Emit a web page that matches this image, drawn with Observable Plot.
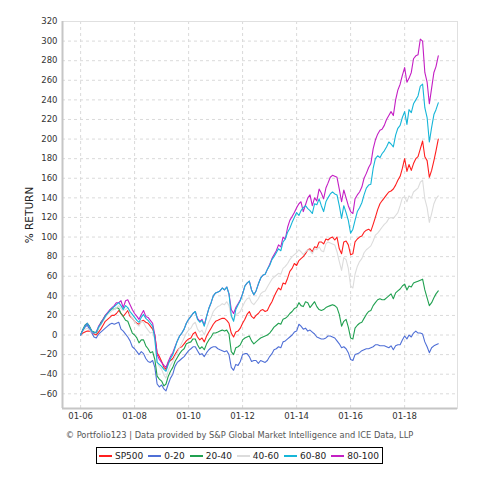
<!DOCTYPE html>
<html>
<head>
<meta charset="utf-8">
<script src="https://cdn.jsdelivr.net/npm/d3@7"></script>
<script src="https://cdn.jsdelivr.net/npm/@observablehq/plot@0.6"></script>
<style>
  html, body { margin: 0; padding: 0; background: #fff; }
  #wrap { position: relative; width: 479px; height: 478px; font-family: "DejaVu Sans", sans-serif; }
  #caption { position: absolute; top: 430px; left: 0; width: 479px; text-align: center; font-size: 8.3px; line-height: 10px; color: #555; white-space: nowrap; }
  #legendRow { position: absolute; top: 447px; left: 0; width: 479px; display: flex; justify-content: center; }
  #legend { display: inline-flex; align-items: center; border: 1px solid #000; height: 15px; padding: 0 3px 0 2px; font-size: 9px; color: #222; }
  .item { display: inline-flex; align-items: center; margin-right: 5px; }
  .item:last-child { margin-right: 0; }
  .sw { display: inline-block; width: 13px; height: 0; border-top: 2px solid; margin-right: 3px; }
</style>
</head>
<body>
<div id="wrap">
  <div id="chart"></div>
  <div id="caption">© Portfolio123 | Data provided by S&amp;P Global Market Intelligence and ICE Data, LLP</div>
  <div id="legendRow"><div id="legend"></div></div>
</div>
<script>
// Monthly % returns, Jan 2006 .. Apr 2019
const startYear = 2006;
const sp500 = [
  0, 2, 3, 4, 4, 3, 1, 0, 3, 6, 10, 14,
  16, 18, 20, 20, 22, 25, 22, 19, 22, 25, 19, 17,
  14, 12, 11, 14, 15, 13, 12, 9, 6, 0, -18, -22,
  -27, -33, -35, -28, -26, -24, -20, -16, -13, -12, -9, -6,
  -4, -3, 1, 3, -2, -5, -3, -7, -1, 3, 7, 11,
  14, 15, 16, 17, 17, 15, 12, 2, -2, 3, 4, 7,
  12, 16, 21, 24, 19, 17, 20, 22, 25, 26, 24, 25,
  30, 34, 39, 44, 48, 46, 53, 52, 58, 65, 68, 73,
  71, 76, 78, 80, 83, 87, 88, 85, 90, 89, 95, 95,
  93, 98, 97, 99, 100, 97, 100, 88, 83, 95, 96, 92,
  82, 83, 95, 98, 100, 101, 105, 107, 108, 106, 113, 120,
  128, 134, 137, 140, 143, 146, 147, 149, 153, 158, 162, 170,
  180, 167, 174, 168, 175, 180, 182, 190, 198, 182, 178, 161,
  168, 178, 188, 200
];
const q0_20 = [
  0, 5, 8, 10, 6, 2, -2, -3, 1, 3, 5, 7,
  9, 11, 12, 11, 12, 13, 6, 4, 1, -2, -6, -12,
  -14, -17, -20, -17, -19, -24, -27, -28, -26, -33, -50, -53,
  -51, -55, -57, -50, -44, -40, -32, -28, -26, -24, -22, -19,
  -16, -14, -12, -12, -16, -20, -19, -22, -18, -15, -13, -12,
  -12, -14, -15, -16, -17, -16, -20, -33, -36, -30, -31, -27,
  -20, -19, -19, -22, -27, -26, -26, -29, -26, -27, -28, -26,
  -22, -19, -15, -14, -12, -13, -7, -6, -4, -2, 0, 3,
  4, 11, 9, 6, 7, 4, 5, 3, 1, -2, -3, -4,
  -4, -3, -1, -1, -2, -3, -6, -9, -13, -12, -14, -18,
  -25, -26, -20, -19, -18, -16, -15, -14, -14, -13, -12, -10,
  -10, -11, -11, -11, -12, -13, -11, -15, -11, -10, -10, -5,
  -1, -4, 0, -2, 2, 4, 2, 2, 1, -7, -12, -18,
  -13, -11, -10, -9
];
const q20_40 = [
  0, 6, 10, 12, 9, 4, 3, 2, 7, 13, 16, 20,
  22, 25, 27, 26, 28, 27, 22, 19, 15, 14, 8, 2,
  0, -3, -8, -5, -5, -11, -14, -18, -17, -25, -42, -45,
  -47, -52, -50, -42, -37, -33, -27, -23, -19, -16, -14, -9,
  -8, -7, -4, -4, -10, -14, -12, -15, -9, -5, -2, 2,
  2, 3, 4, 5, 4, 5, 1, -17, -20, -13, -12, -10,
  -5, -3, -2, -1, -6, -9, -7, -5, -3, -2, -1, 0,
  2, 5, 8, 10, 12, 11, 16, 17, 19, 22, 24, 27,
  28, 33, 30, 29, 34, 33, 28, 31, 34, 29, 26, 25,
  26, 28, 29, 30, 31, 30, 28, 21, 9, 14, 16, 8,
  -3, -4, 7, 10, 12, 13, 17, 21, 24, 25, 30, 33,
  36, 37, 36, 36, 38, 40, 42, 37, 43, 45, 47, 50,
  52, 46, 50, 49, 53, 54, 55, 56, 57, 46, 38, 30,
  33, 38, 42, 45
];
const q40_60 = [
  0, 4, 6, 7, 5, 3, 2, 3, 7, 10, 14, 18,
  21, 23, 25, 26, 28, 30, 27, 25, 26, 28, 21, 17,
  14, 11, 9, 14, 13, 8, 5, 2, 3, -5, -28, -32,
  -35, -41, -44, -36, -31, -27, -22, -18, -13, -8, -3, 2,
  5, 7, 11, 13, 6, 3, 5, 0, 7, 13, 18, 24,
  27, 29, 30, 32, 31, 34, 30, 18, 15, 21, 22, 24,
  29, 34, 37, 38, 33, 31, 34, 37, 42, 44, 45, 49,
  53, 57, 59, 61, 63, 62, 68, 70, 73, 77, 80, 82,
  84, 87, 85, 82, 85, 87, 86, 83, 88, 87, 90, 86,
  85, 93, 95, 94, 93, 92, 85, 75, 66, 79, 77, 68,
  50, 48, 62, 70, 75, 78, 84, 87, 89, 91, 96, 102,
  104, 107, 110, 113, 115, 119, 120, 119, 122, 125, 132, 140,
  141, 136, 142, 140, 146, 148, 150, 156, 158, 139, 130, 115,
  124, 134, 139, 142
];
const q60_80 = [
  0, 5, 9, 12, 8, 4, 2, 3, 8, 11, 15, 19,
  22, 25, 27, 29, 31, 33, 30, 26, 30, 28, 24, 21,
  18, 15, 13, 18, 21, 17, 15, 12, 9, -4, -28, -30,
  -32, -35, -37, -30, -24, -20, -13, -6, -1, 2, 6, 12,
  16, 19, 22, 24, 16, 13, 15, 9, 19, 27, 33, 40,
  43, 44, 45, 48, 46, 49, 42, 20, 14, 26, 31, 35,
  42, 50, 53, 55, 46, 41, 45, 52, 58, 61, 62, 67,
  71, 77, 80, 84, 88, 86, 95, 98, 105, 109, 115, 120,
  125, 122, 127, 130, 132, 129, 127, 124, 134, 133, 139, 132,
  126, 136, 140, 144, 146, 144, 143, 132, 119, 132, 125, 117,
  104, 108, 117, 126, 130, 135, 143, 150, 153, 154, 170, 180,
  183, 181, 185, 188, 192, 197, 195, 192, 204, 211, 214, 222,
  228, 215, 230, 227, 236, 240, 244, 254, 256, 232, 222, 197,
  212, 225, 230, 237
];
const q80_100 = [
  0, 5, 9, 12, 8, 4, 2, 3, 9, 12, 16, 20,
  23, 26, 28, 30, 33, 33, 35, 28, 35, 36, 31, 26,
  22, 19, 16, 21, 25, 19, 18, 15, 12, 0, -20, -25,
  -28, -31, -33, -27, -22, -18, -12, -6, -1, 2, 6, 12,
  16, 19, 22, 24, 17, 14, 16, 10, 19, 27, 33, 40,
  43, 44, 45, 48, 46, 49, 42, 26, 22, 28, 32, 36,
  42, 50, 53, 55, 46, 41, 45, 52, 58, 61, 62, 67,
  72, 78, 82, 86, 92, 90, 100, 98, 110, 117, 121, 125,
  130, 134, 136, 126, 133, 140, 143, 132, 140, 137, 149, 145,
  139, 150, 155, 161, 163, 162, 161, 149, 136, 148, 140, 132,
  126, 124, 139, 143, 146, 151, 160, 165, 171, 175, 190, 199,
  205, 209, 210, 214, 220, 224, 228, 224, 240, 250, 256, 265,
  273, 258, 262, 268, 282, 285, 286, 302, 300, 268, 258, 236,
  252, 268, 274, 285
];

const seriesNames = ["SP500", "0-20", "20-40", "40-60", "60-80", "80-100"];
const seriesColors = ["#ff1f1f", "#4f6fd6", "#20a050", "#dcdcdc", "#16b6d8", "#c41fc4"];
const seriesValues = [sp500, q0_20, q20_40, q40_60, q60_80, q80_100];
const xTickYears = [2006, 2008, 2010, 2012, 2014, 2016, 2018];
const yTicks = d3.range(-60, 321, 20);

const dates = sp500.map((_, i) => new Date(Date.UTC(startYear, i, 1)));
const tables = seriesValues.map((vals, k) => vals.map((v, i) => ({date: dates[i], value: v, series: seriesNames[k]})));
const xTicks = xTickYears.map(y => new Date(Date.UTC(y, 0, 1)));
const xDomain = [new Date(Date.UTC(2005, 4, 1)), new Date(Date.UTC(2019, 11, 17))];
const yDomain = [-75, 320];

// draw order: purple under cyan
const drawOrder = [0, 1, 2, 3, 5, 4];

const chart = Plot.plot({
  width: 479,
  height: 424,
  marginTop: 21,
  marginBottom: 16,
  marginLeft: 62,
  marginRight: 22,
  style: {fontFamily: "DejaVu Sans", fontSize: "8.5px", color: "#333", background: "#fff"},
  x: {type: "utc", domain: xDomain},
  y: {domain: yDomain},
  marks: [
    Plot.gridX(xTicks, {stroke: "#dadada", strokeOpacity: 1, strokeDasharray: "3,3"}),
    Plot.gridY(yTicks, {stroke: "#dadada", strokeOpacity: 1, strokeDasharray: "3,3"}),
    Plot.frame({stroke: "#e0e0e0"}),
    Plot.ruleX([xDomain[0]], {stroke: "#c6c6c6", strokeWidth: 2}),
    Plot.ruleY([yDomain[0]], {stroke: "#c6c6c6", strokeWidth: 2}),
    Plot.axisX(xTicks, {tickFormat: d3.utcFormat("%m-%y"), tickSize: 0, tickPadding: 4, label: null}),
    Plot.axisY(yTicks, {tickSize: 0, tickPadding: 5, label: null}),
    Plot.text(["% RETURN"], {frameAnchor: "left", rotate: -90, dx: -33, textAnchor: "middle", fontSize: 10.5, fill: "#222"}),
    ...drawOrder.map(k => Plot.line(tables[k], {x: "date", y: "value", stroke: seriesColors[k], strokeWidth: 1.1}))
  ]
});
document.getElementById("chart").appendChild(chart);

const legend = document.getElementById("legend");
seriesNames.forEach((name, k) => {
  const item = document.createElement("span");
  item.className = "item";
  const sw = document.createElement("span");
  sw.className = "sw";
  sw.style.borderTopColor = seriesColors[k];
  const label = document.createElement("span");
  label.textContent = name;
  item.appendChild(sw);
  item.appendChild(label);
  legend.appendChild(item);
});
</script>
</body>
</html>
